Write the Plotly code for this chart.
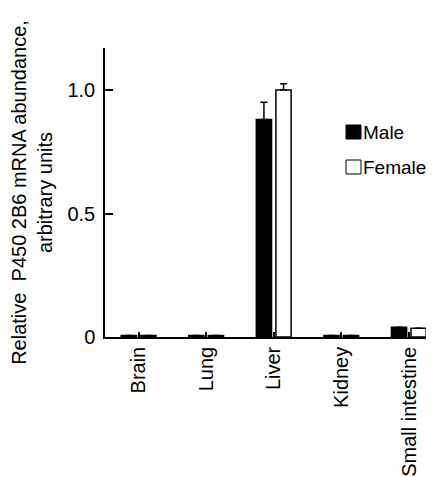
import plotly.graph_objects as go

categories = ["Brain", "Lung", "Liver", "Kidney", "Small intestine"]
series_names = ["Male", "Female"]
male_values = [0.006, 0.006, 0.881, 0.006, 0.039]
female_values = [0.006, 0.006, 1.0, 0.006, 0.035]
male_err = [0, 0, 0.069, 0, 0]
female_err = [0, 0, 0.025, 0, 0]
y_ticks = [0, 0.5, 1.0]
y_tick_labels = ["0", "0.5", "1.0"]

FONT = "Arial, 'Liberation Sans', sans-serif"
FS = 20
x_idx = list(range(len(categories)))

# plot area in window pixels: x 105..434, y 48..337 (page body adds 8px offset)
PL, PT, PW, PH = 105, 48, 329, 289

fig = go.Figure()
fig.add_trace(go.Bar(
    x=x_idx, y=male_values, name=series_names[0],
    width=0.225, offset=-0.26,
    marker=dict(color="black", line=dict(color="black", width=1.5)),
    error_y=dict(type="data", symmetric=False, array=male_err,
                 arrayminus=[0] * len(male_err), color="black",
                 thickness=1.5, width=3.5),
    showlegend=False,
))
fig.add_trace(go.Bar(
    x=x_idx, y=female_values, name=series_names[1],
    width=0.225, offset=0.03,
    marker=dict(color="white", line=dict(color="black", width=1.5)),
    error_y=dict(type="data", symmetric=False, array=female_err,
                 arrayminus=[0] * len(female_err), color="black",
                 thickness=1.5, width=3.5),
    showlegend=False,
))

# manual legend
legend_fills = ["black", "white"]
bottom = PT + PH
for i, (nm, fc) in enumerate(zip(series_names, legend_fills)):
    y0 = 139 + i * 35
    fig.add_shape(type="rect", xref="paper", yref="paper",
                  x0=(346 - PL) / PW, x1=(361 - PL) / PW,
                  y0=(bottom - y0) / PH, y1=(bottom - (y0 - 14)) / PH,
                  line=dict(color="black", width=1), fillcolor=fc)
    fig.add_annotation(xref="paper", yref="paper",
                       x=(361 - PL) / PW, y=(bottom - (y0 - 7)) / PH,
                       text=nm, showarrow=False, xanchor="left", yanchor="middle",
                       font=dict(family=FONT, size=19, color="black"))

fig.update_layout(
    width=426, height=469,
    margin=dict(l=PL - 8, r=0, t=PT - 8, b=469 - (PT - 8) - PH),
    paper_bgcolor="white", plot_bgcolor="white",
    barmode="group",
    font=dict(family=FONT, size=FS, color="black"),
    xaxis=dict(
        range=[-0.5, 4.37], automargin=False,
        tickmode="array", tickvals=x_idx, ticktext=categories,
        tickangle=-90, ticks="inside", ticklen=5, tickwidth=1.5,
        tickcolor="black", tickson="boundaries",
        showline=True, linecolor="black", linewidth=1.5,
        showgrid=False, zeroline=False,
        tickfont=dict(family=FONT, size=FS),
    ),
    yaxis=dict(
        range=[0, 1.17], automargin=False,
        tickmode="array", tickvals=y_ticks, ticktext=y_tick_labels,
        ticks="inside", ticklen=8, tickwidth=1.5, tickcolor="black",
        showline=True, linecolor="black", linewidth=1.5,
        showgrid=False, zeroline=False,
        ticklabelstandoff=4,
        tickfont=dict(family=FONT, size=FS),
        title=dict(text="Relative  P450 2B6 mRNA abundance,<br>arbitrary units",
                   font=dict(family=FONT, size=FS), standoff=10),
    ),
)

fig.write_html("out.html")
